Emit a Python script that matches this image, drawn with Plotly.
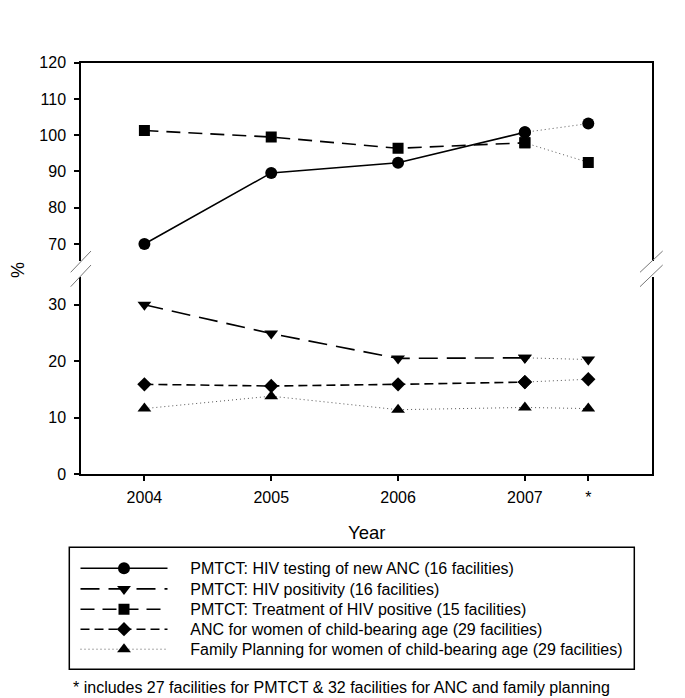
import plotly.graph_objects as go

# ---- data ----
categories = ["2004", "2005", "2006", "2007", "*"]
x_pos = [2004, 2005, 2006, 2007, 2007.5]

hiv_testing = [70.0, 89.6, 92.4, 100.8, 103.2]
hiv_positivity = [30.0, 24.9, 20.5, 20.6, 20.3]
hiv_treatment = [101.3, 99.5, 96.4, 97.9, 92.5]
anc_women = [15.9, 15.6, 15.9, 16.3, 16.8]
fp_women = [11.6, 13.8, 11.4, 11.8, 11.6]

series_names = [
    "PMTCT: HIV testing of new ANC (16 facilities)",
    "PMTCT: HIV positivity (16 facilities)",
    "PMTCT: Treatment of HIV positive (15 facilities)",
    "ANC for women of child-bearing age (29 facilities)",
    "Family Planning for women of child-bearing age (29 facilities)",
]
footnote = "* includes 27 facilities for PMTCT & 32 facilities for ANC and family planning"

# The page body has an 8px default margin: size the figure to fill the
# remaining window area and map window pixels to paper coordinates.
WIN_W, WIN_H = 685, 698
OFF = 8
W, H = WIN_W - OFF, WIN_H - OFF
FONT = "Liberation Sans, Arial, sans-serif"


def px(x):
    return (x - OFF) / W


def py(y):
    return 1 - (y - OFF) / H


fig = go.Figure()

DOT = dict(color="#555555", width=1, dash="1px,3px")
legend_ids = ["legend", "legend2", "legend3", "legend4", "legend5"]


def add_series(vals, idx, symbol, size, dash, axis, dotted_all=False):
    xa, ya = ("x2", "y2") if axis == "upper" else ("x", "y")
    mk = dict(symbol=symbol, size=size, color="black")
    name = "\u00a0\u00a0\u00a0\u00a0" + series_names[idx]
    if dotted_all:
        fig.add_trace(go.Scatter(x=x_pos, y=vals, mode="lines+markers", name=name,
                                 line=DOT, marker=mk, xaxis=xa, yaxis=ya,
                                 legend=legend_ids[idx]))
        return
    fig.add_trace(go.Scatter(x=x_pos[:4], y=vals[:4], mode="lines+markers", name=name,
                             line=dict(color="black", width=1.6, dash=dash),
                             marker=mk, xaxis=xa, yaxis=ya, legend=legend_ids[idx]))
    fig.add_trace(go.Scatter(x=x_pos[3:], y=vals[3:], mode="lines+markers", showlegend=False,
                             line=DOT, marker=mk, xaxis=xa, yaxis=ya, hoverinfo="skip"))


add_series(hiv_testing, 0, "circle", 12, "solid", "upper")
add_series(hiv_positivity, 1, "triangle-down", 12, "19px,9px", "lower")
add_series(hiv_treatment, 2, "square", 11, "14px,8px", "upper")
add_series(anc_women, 3, "diamond", 11, "9px,5px", "lower")
add_series(fp_women, 4, "triangle-up", 12, None, "lower", dotted_all=True)

x_dom = [px(81), px(651.7)]
x_rng = [2003.5, 2008]
tickfont = dict(family=FONT, size=16, color="black")

fig.update_layout(
    width=W, height=H,
    margin=dict(l=0, r=0, t=0, b=0, autoexpand=False),
    paper_bgcolor="white", plot_bgcolor="white",
    font=dict(family=FONT, size=16, color="black"),
    xaxis=dict(domain=x_dom, range=x_rng, anchor="y", tickmode="array",
               tickvals=x_pos, ticktext=categories, ticks="outside", ticklen=5,
               tickwidth=1.5, tickcolor="black", showline=True, linecolor="black",
               linewidth=1.5, showgrid=False, zeroline=False, tickfont=tickfont,
               ticklabelstandoff=3, automargin=False),
    yaxis=dict(domain=[py(474), py(276.6)], range=[0, 35], anchor="x",
               tickvals=[0, 10, 20, 30], ticks="outside", ticklen=5, tickwidth=1.5,
               tickcolor="black", showline=True, mirror=True, linecolor="black",
               linewidth=1.5, showgrid=False, zeroline=False, tickfont=tickfont,
               ticklabelstandoff=5, automargin=False),
    xaxis2=dict(domain=x_dom, range=x_rng, anchor="y2", side="top", showline=True,
                linecolor="black", linewidth=1.5, showticklabels=False, ticks="",
                showgrid=False, zeroline=False, automargin=False),
    yaxis2=dict(domain=[py(261), py(62.7)], range=[65.3, 120], anchor="x2",
                tickvals=[70, 80, 90, 100, 110, 120], ticks="outside", ticklen=5,
                tickwidth=1.5, tickcolor="black", showline=True, mirror=True,
                linecolor="black", linewidth=1.5, showgrid=False, zeroline=False,
                tickfont=tickfont, ticklabelstandoff=5, automargin=False),
    showlegend=True,
)

row_y = [568.3, 589.0, 609.3, 629.3, 649.3]
for lid, ry in zip(legend_ids, row_y):
    fig.update_layout({lid: dict(x=px(75.5), y=py(ry), xanchor="left", yanchor="middle",
                                 bgcolor="rgba(0,0,0,0)", borderwidth=0,
                                 font=dict(family=FONT, size=16, color="black"),
                                 itemwidth=87)})

# legend frame
fig.add_shape(type="rect", xref="paper", yref="paper",
              x0=px(69.3), y0=py(669.3), x1=px(634.3), y1=py(547.3),
              line=dict(color="black", width=1.5))

# axis titles
fig.add_annotation(x=px(366), y=py(532), xref="paper", yref="paper", text="Year",
                   xanchor="center", yanchor="middle", showarrow=False,
                   font=dict(family=FONT, size=18.5, color="black"))
fig.add_annotation(x=px(18), y=py(270), xref="paper", yref="paper", text="%",
                   xanchor="center", yanchor="middle", textangle=-90, showarrow=False,
                   font=dict(family=FONT, size=18, color="black"))
fig.add_annotation(x=px(71), y=py(687), xref="paper", yref="paper", text=footnote,
                   xanchor="left", yanchor="middle", showarrow=False,
                   font=dict(family=FONT, size=16, color="black"))

# axis break marks
for xl, xr in [(70.7, 91.0), (640.0, 662.7)]:
    for y0, y1 in [(272.3, 251.0), (286.7, 265.0)]:
        fig.add_shape(type="line", xref="paper", yref="paper",
                      x0=px(xl), y0=py(y0), x1=px(xr), y1=py(y1),
                      line=dict(color="#777777", width=1))

fig.write_html("out.html")
